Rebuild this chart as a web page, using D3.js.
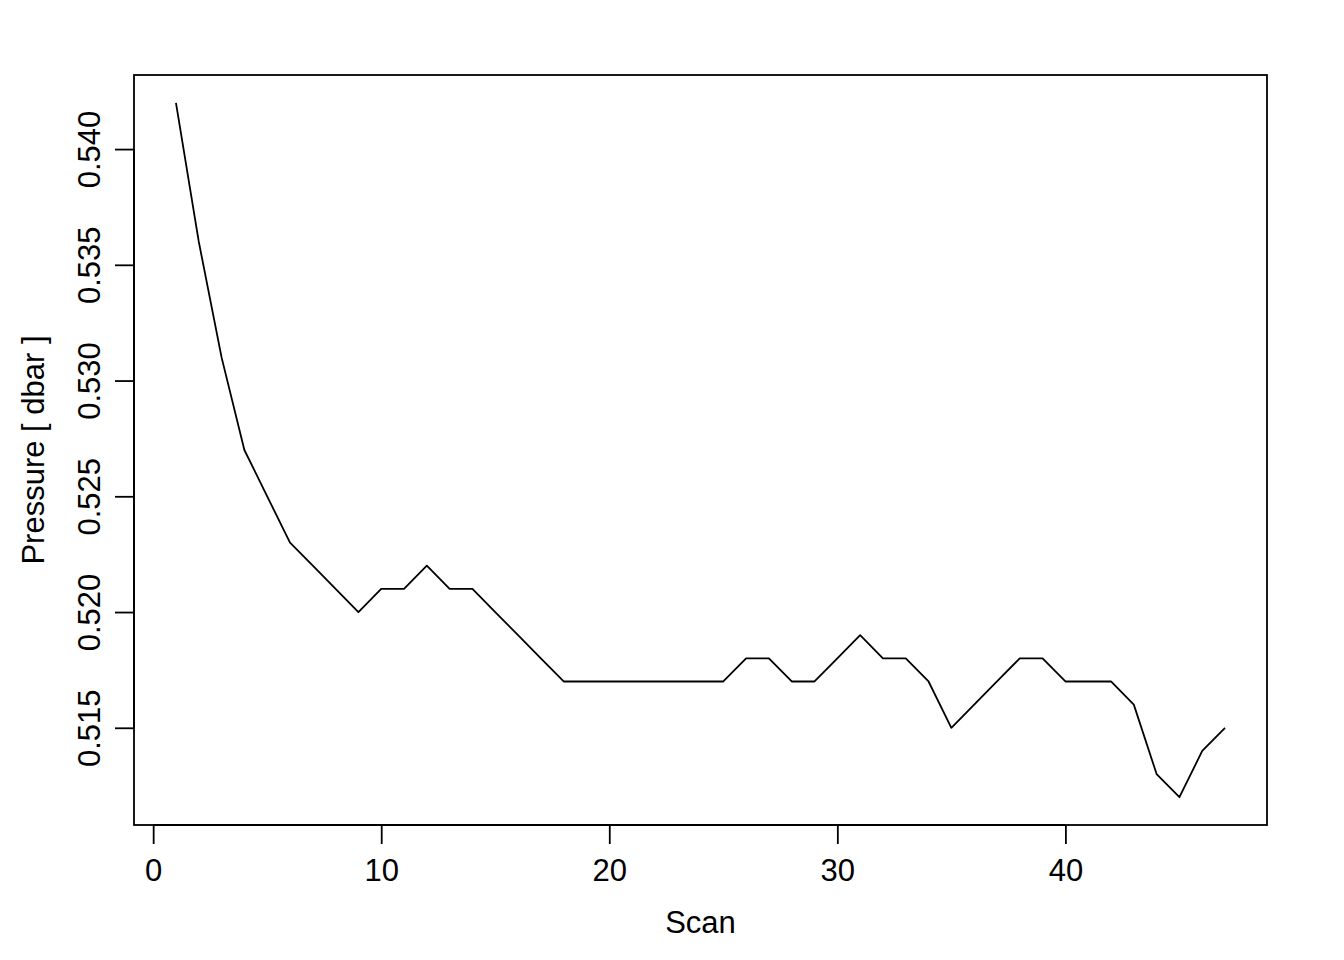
<!DOCTYPE html>
<html><head><meta charset="utf-8">
<script src="https://cdn.jsdelivr.net/npm/d3@7"></script>
<style>body{margin:0;background:#fff}svg{display:block}text{font-family:"Liberation Sans",Arial,sans-serif;fill:#000}</style>
</head><body><svg id="c" width="1344" height="960"></svg>
<script>
const scans = d3.range(1, 48);
const pressure = [0.542,0.536,0.531,0.527,0.525,0.523,0.522,0.521,0.520,0.521,
  0.521,0.522,0.521,0.521,0.520,0.519,0.518,0.517,0.517,0.517,
  0.517,0.517,0.517,0.517,0.517,0.518,0.518,0.517,0.517,0.518,
  0.519,0.518,0.518,0.517,0.515,0.516,0.517,0.518,0.518,0.517,
  0.517,0.517,0.516,0.513,0.512,0.514,0.515];
const xTicks = [0,10,20,30,40];
const yTicks = [0.515,0.520,0.525,0.530,0.535,0.540];
const xLabel = "Scan", yLabel = "Pressure [ dbar ]";

const svg = d3.select("#c");
const L=134, R=1267, T=75, B=825;
const xmin=1, xmax=47, xpad=(xmax-xmin)*0.04;
const ymin=d3.min(pressure), ymax=d3.max(pressure), ypad=(ymax-ymin)*0.04;
const x = d3.scaleLinear().domain([xmin-xpad, xmax+xpad]).range([L,R]);
const y = d3.scaleLinear().domain([ymin-ypad, ymax+ypad]).range([B,T]);
const fs = 31;

svg.append("rect").attr("x",L).attr("y",T).attr("width",R-L).attr("height",B-T)
  .attr("fill","none").attr("stroke","#000").attr("stroke-width",1.8);

const xa = svg.append("g").attr("transform",`translate(0,${B})`)
  .call(d3.axisBottom(x).tickValues(xTicks).tickSize(19).tickPadding(15).tickFormat(d3.format("d")));
const ya = svg.append("g").attr("transform",`translate(${L},0)`)
  .call(d3.axisLeft(y).tickValues(yTicks).tickSize(19).tickFormat(d3.format(".3f")));
[xa,ya].forEach(g=>{
  g.select(".domain").attr("stroke","#000").attr("stroke-width",1.8);
  g.selectAll(".tick line").attr("stroke","#000").attr("stroke-width",1.8);
  g.selectAll("text").attr("font-size",fs).attr("font-family",'"Liberation Sans",Arial,sans-serif').attr("fill","#000");
});
xa.select(".domain").attr("d",`M${x(0)},0H${x(40)}`);
ya.select(".domain").attr("d",`M0,${y(0.515)}V${y(0.540)}`);
ya.selectAll(".tick text").attr("x",null).attr("dy",null).attr("text-anchor","middle")
  .attr("transform","translate(-45,0) rotate(-90)").attr("dominant-baseline","central");

svg.append("path").datum(scans.map((s,i)=>[s,pressure[i]]))
  .attr("d",d3.line().x(d=>x(d[0])).y(d=>y(d[1])))
  .attr("fill","none").attr("stroke","#000").attr("stroke-width",1.8).attr("stroke-linejoin","round");

svg.append("text").attr("x",(L+R)/2).attr("y",933).attr("text-anchor","middle").attr("font-size",fs).text(xLabel);
svg.append("text").attr("transform",`translate(44,${(T+B)/2}) rotate(-90)`).attr("text-anchor","middle").attr("font-size",fs).text(yLabel);
</script></body></html>
